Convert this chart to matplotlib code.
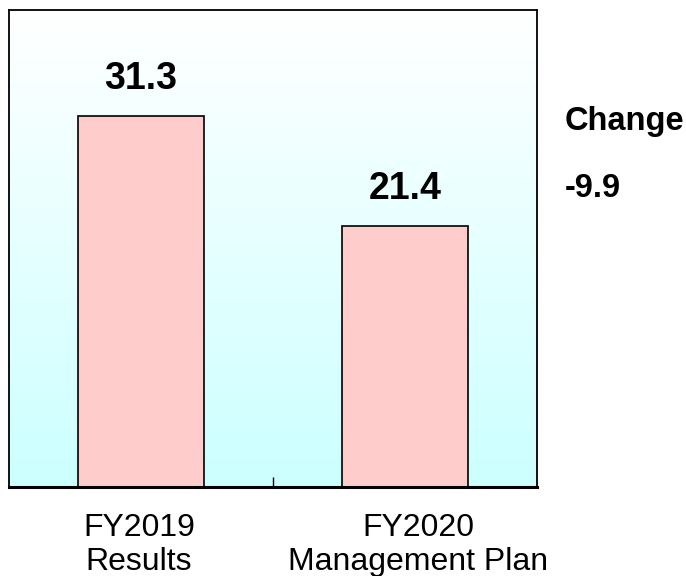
import numpy as np
import matplotlib
matplotlib.use('Agg')
import matplotlib.pyplot as plt

plt.rcParams['font.family'] = ['Liberation Sans', 'DejaVu Sans']

# values
categories = ['FY2019\nResults', 'FY2020\nManagement Plan']
values = [31.3, 21.4]
labels = ['31.3', '21.4']
change_title = 'Change'
change_value = '-9.9'

base = -2.1
fig = plt.figure(figsize=(6.86, 5.76), dpi=100)
ax = fig.add_axes([0.0131, 0.1545, 0.7697, 0.828])

x = np.arange(len(categories))
ax.set_xlim(-0.5, 1.5)
ax.set_ylim(base, 40.8)

# background gradient, white at top to light cyan at bottom
grad = np.linspace(0, 1, 256).reshape(-1, 1)
top = np.array([1.0, 1.0, 1.0])
bot = np.array([0.80, 1.0, 1.0])
img = top + (bot - top) * grad
ax.imshow(img[:, None, :].repeat(2, axis=1), extent=(-0.5, 1.5, base, 40.8),
          aspect='auto', origin='upper', zorder=0)

ax.bar(x, np.array(values) - base, bottom=base, width=0.477,
       color='#FFCCCC', edgecolor='black', linewidth=1.2, zorder=2)

for xi, v, lab in zip(x, values, labels):
    ax.text(xi, v + 2.4, lab, ha='center', va='baseline', fontsize=27,
            fontweight='bold')

ax.text(1.053, 0.748, change_title, transform=ax.transAxes, ha='left',
        va='baseline', fontsize=23.5, fontweight='bold')
ax.text(1.053, 0.608, change_value, transform=ax.transAxes, ha='left',
        va='baseline', fontsize=23.5, fontweight='bold')

ax.set_yticks([])
ax.set_xticks([0.5])
ax.set_xticklabels([])
ax.tick_params(axis='x', which='major', direction='in', length=7, width=1)
# category labels sit slightly off the bar centres in the original
ax.set_xticks(x + np.array([-0.008, 0.05]), minor=True)
ax.set_xticklabels(categories, minor=True, fontsize=23, linespacing=1.17)
ax.tick_params(axis='x', which='minor', length=0, pad=19)

for s in ['left', 'right', 'top']:
    ax.spines[s].set_linewidth(1.3)
ax.spines['bottom'].set_linewidth(2.2)

fig.savefig('out.png', dpi=100)
